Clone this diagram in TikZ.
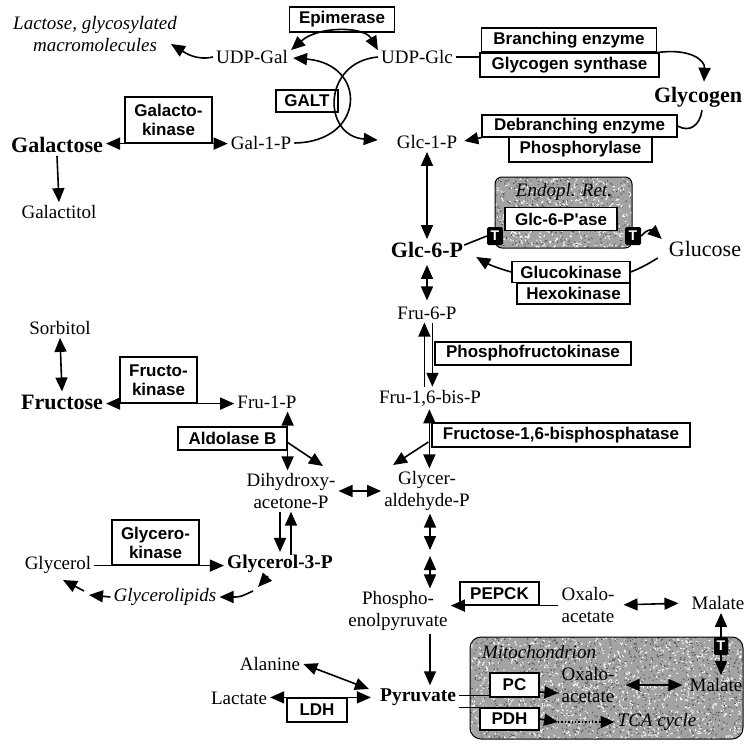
\documentclass[tikz,border=0pt]{standalone}
\usepackage{fontspec}
\setmainfont{Liberation Serif}
\newfontfamily\sansf{Liberation Sans}
\usetikzlibrary{arrows.meta,calc}

\newcommand\metsz{\fontsize{19}{21.5}\selectfont}
\newcommand\bigsz{\fontsize{22}{24}\selectfont\bfseries}
\newcommand\bldsz{\fontsize{19.5}{21}\selectfont\bfseries}
\newcommand\enzsz{\sansf\bfseries\fontsize{17}{19}\selectfont}

% grainy membrane texture: random light and dark flecks
\newcommand\speckle[5]{%
  \foreach \k in {1,...,#5}{%
    \pgfmathsetmacro\sx{#1+(#3-#1)*rnd}%
    \pgfmathsetmacro\sy{#2+(#4-#2)*rnd}%
    \pgfmathsetmacro\dx{4*rnd-2}%
    \pgfmathsetmacro\dy{4*rnd-2}%
    \draw[white,line width=0.9pt,line cap=round] (\sx,\sy) -- ++(\dx,\dy);
  }%
  \foreach \k in {1,...,#5}{%
    \pgfmathsetmacro\sx{#1+(#3-#1)*rnd}%
    \pgfmathsetmacro\sy{#2+(#4-#2)*rnd}%
    \pgfmathsetmacro\dx{3*rnd-1.5}%
    \pgfmathsetmacro\dy{3*rnd-1.5}%
    \draw[black!70,line width=0.7pt,line cap=round] (\sx,\sy) -- ++(\dx,\dy);
  }%
}

\tikzset{
  met/.style={font=\metsz, inner sep=3pt, align=center},
  metbig/.style={font=\bigsz, inner sep=3pt},
  metlarge/.style={font=\fontsize{22}{24}\selectfont, inner sep=3pt},
  metbold/.style={font=\bldsz, inner sep=3pt},
  metit/.style={font=\metsz\itshape, inner sep=3pt, align=center},
  enz/.style={draw, fill=white, line width=1.2pt, font=\enzsz, inner xsep=4pt,
    inner ysep=0pt, align=center},
  link/.style={line width=1.6pt},
  arr/.style={link, -{Triangle[length=14pt,width=12pt]}},
  darr/.style={link, {Triangle[length=14pt,width=12pt]}-{Triangle[length=14pt,width=12pt]}},
  tbox/.style={fill=black, text=white, font=\sansf\bfseries\fontsize{14}{14}\selectfont,
    inner sep=0pt, minimum width=16pt, minimum height=18pt, rounded corners=1.5pt},
}

\begin{document}
\begin{tikzpicture}[x=1pt,y=-1pt]
\useasboundingbox (0,0) rectangle (744,745);
\fill[white] (0,0) rectangle (744,745);

% ---------- compartments ----------
\pgfmathsetseed{7}
\begin{scope}
  \path[clip,rounded corners=7pt] (495,177) rectangle (632,248);
  \fill[black!36] (495,177) rectangle (632,248);
  \speckle{495}{177}{632}{248}{420}
\end{scope}
\draw[line width=1pt,rounded corners=7pt] (495,177) rectangle (632,248);

\begin{scope}
  \path[clip,rounded corners=11pt] (470,637) rectangle (743,739);
  \fill[black!36] (470,637) rectangle (743,739);
  \speckle{470}{637}{743}{739}{1200}
\end{scope}
\draw[line width=1pt,rounded corners=11pt] (470,637) rectangle (743,739);

% ---------- metabolites ----------
\node[metit] (lac) at (95,34) {Lactose, glycosylated\\macromolecules};
\node[met] (udpgal) at (252,57) {UDP-Gal};
\node[met] (udpglc) at (417,57) {UDP-Glc};
\node[metbig] (galactose) at (57,145) {Galactose};
\node[met] (gal1p) at (261,143) {Gal-1-P};
\node[met] (glc1p) at (427,142) {Glc-1-P};
\node[metbig] (glycogen) at (698,97) {Glycogen};
\node[met] (galactitol) at (59,212) {Galactitol};
\node[metbig] (glc6p) at (427,250) {Glc-6-P};
\node[metlarge] (glucose) at (705,249) {Glucose};
\node[met] (fru6p) at (427,313) {Fru-6-P};
\node[met] (sorbitol) at (60,328) {Sorbitol};
\node[metbig] (fructose) at (62,402) {Fructose};
\node[met] (fru1p) at (267,402) {Fru-1-P};
\node[met] (fru16bp) at (430,398) {Fru-1,6-bis-P};
\node[met] (dhap) at (291,491) {Dihydroxy-\\acetone-P};
\node[met] (gap) at (427,491) {Glycer-\\aldehyde-P};
\node[met] (glycerol) at (58,565) {Glycerol};
\node[metbold] (g3p) at (280,564) {Glycerol-3-P};
\node[metit] (glipids) at (165,597) {Glycerolipids};
\node[met] (pep) at (398,611) {Phospho-\\enolpyruvate};
\node[met] (oaa) at (588,605) {Oxalo-\\acetate};
\node[met] (malate) at (718,603) {Malate};
\node[met] (alanine) at (270,664) {Alanine};
\node[met] (lactate) at (239,698) {Lactate};
\node[metbold] (pyruvate) at (418,697) {Pyruvate};
\node[metit] (mitolab) at (539,652) {Mitochondrion};
\node[met] (oaam) at (588,685) {Oxalo-\\acetate};
\node[met] (malatem) at (716,685) {Malate};
\node[metit] (tca) at (657,722) {TCA cycle};
\node[metit] (erlab) at (564,192) {Endopl. Ret.};

% ---------- enzymes ----------
\node[enz,minimum width=105pt,minimum height=25pt] (epim) at (342,19.5) {Epimerase};
\node[enz,minimum width=175pt,minimum height=24pt] (be) at (569,40) {Branching enzyme};
\node[enz,minimum width=179pt,minimum height=24pt] (gs) at (569.5,65) {Glycogen synthase};
\node[enz,minimum width=62pt,minimum height=22pt] (galt) at (307,101) {GALT};
\node[enz,minimum width=87pt,minimum height=46pt] (galk) at (168.5,120) {Galacto-\\kinase};
\node[enz,minimum width=195pt,minimum height=22pt] (deb) at (579.5,126) {Debranching enzyme};
\node[enz,minimum width=143pt,minimum height=25pt] (phos) at (580.5,149.5) {Phosphorylase};
\node[enz,minimum width=112pt,minimum height=23pt] (g6pase) at (561,219) {Glc-6-P'ase};
\node[enz,minimum width=118pt,minimum height=21pt] (gk) at (571,272) {Glucokinase};
\node[enz,minimum width=113pt,minimum height=21pt] (hk) at (573.5,293.5) {Hexokinase};
\node[enz,minimum width=196pt,minimum height=23pt] (pfk) at (533,353.5) {Phosphofructokinase};
\node[enz,minimum width=258pt,minimum height=24pt] (fbp) at (561,435) {Fructose-1,6-bisphosphatase};
\node[enz,minimum width=77pt,minimum height=46pt] (fruk) at (158.5,380) {Fructo-\\kinase};
\node[enz,minimum width=109pt,minimum height=23pt] (aldb) at (232.5,438.5) {Aldolase B};
\node[enz,minimum width=87pt,minimum height=45pt] (glyk) at (155.5,542.5) {Glycero-\\kinase};
\node[enz,minimum width=79pt,minimum height=23pt] (pepck) at (499.5,593.5) {PEPCK};
\node[enz,minimum width=60pt,minimum height=24pt] (ldh) at (317,710) {LDH};
\node[enz,minimum width=49pt,minimum height=24pt] (pc) at (514.5,685) {PC};
\node[enz,minimum width=59pt,minimum height=22pt] (pdh) at (509.5,719) {PDH};

% transporters of the ER membrane
\node[tbox] (tl) at (495,236) {T};
\node[tbox] (tr) at (633,236) {T};

% ---------- free ends ----------
\coordinate (lacend) at (171,44);
\coordinate (aldend) at (323,466);
\coordinate (fbpend) at (393,465);
\coordinate (gl1) at (258,587);
\coordinate (gl2) at (253,591);
\coordinate (gl3) at (89,595);
\coordinate (gl4) at (84,591);
\coordinate (gl5) at (63,580);
\coordinate (mid) at (430,553);
\coordinate (dot1) at (558,722);
\coordinate (dot2) at (600,722);

% ---------- galactose ----------
\draw[arr] (udpgal.west) .. controls (196,61) and (184,52) .. (lacend);
\draw[darr] ($(udpgal.north east)+(0,3)$) .. controls (318,26) and (364,26) .. ($(udpglc.north west)+(0,3)$);
\draw[arr] (gal1p.east) .. controls (366,142) and (368,64) .. ($(udpgal.east)+(2,1)$);
\draw[arr] (udpglc.west) .. controls (322,62) and (322,136) .. ($(glc1p.west)+(-16,-2)$);
\draw[darr] (galactose.east |- galk.south) -- (gal1p.west |- galk.south);
\draw[arr] (galactose.south) -- (galactitol.north);

% ---------- glycogen ----------
\draw[link] (udpglc.east) -- (udpglc.east -| gs.west);
\draw[arr] (be.south east) .. controls (690,48) and (705,60) .. ($(glycogen.north)+(6,-2)$);
\draw[link] ($(glycogen.south)+(4,0)$) .. controls (700,125) and (690,133) .. (deb.east);
\draw[arr] (deb.south west) -- ($(glc1p.east)+(4,-1)$);
\draw[darr] (glc1p.south) -- (glc6p.north);

% ---------- glucose ----------
\draw[link] ($(glc6p.north east)+(-2,6)$) -- (tl.west);
\draw[arr] (tr.east) .. controls (649,227) and (653,231) .. ($(glucose.west)+(-4,-10)$);
\draw[link] ($(glucose.west)+(-8,9)$) .. controls (648,264) and (641,268) .. (gk.east);
\draw[arr] (gk.west) .. controls (500,269) and (490,265) .. ($(glc6p.east)+(10,7)$);

% ---------- glycolysis / gluconeogenesis ----------
\draw[darr,shorten <=4pt,shorten >=3pt] (glc6p.south) -- (fru6p.north);
\draw[arr] ($(fru16bp.north -| pfk.west)+(-10,0)$) -- ($(fru6p.south -| pfk.west)+(-10,0)$);
\draw[arr] ($(fru6p.south -| pfk.west)+(-2,0)$) -- ($(fru16bp.north -| pfk.west)+(-2,0)$);
\draw[darr] ($(fru16bp.south -| fbp.west)+(-2,0)$) -- ($(gap.north -| fbp.west)+(-2,0)$);
\draw[arr] ($(fbp.west)+(-3,7)$) -- (fbpend);

% ---------- fructose ----------
\draw[darr] (sorbitol.south) -- (fructose.north);
\draw[darr] (fructose.east |- fruk.south) -- (fru1p.west |- fruk.south);
\draw[darr] (fru1p.south -| aldb.east) -- (dhap.north -| aldb.east);
\draw[arr] ($(aldb.east)+(0,4)$) -- (aldend);

% ---------- trioses / glycerol ----------
\draw[darr] (dhap.east) -- (gap.west);
\draw[arr] (dhap.south -| g3p.north) -- (g3p.north);
\draw[arr] ($(g3p.north -| dhap.south)+(0,3)$) -- (dhap.south);
\draw[arr] (glycerol.east |- glyk.south) -- (g3p.west |- glyk.south);
\draw[arr] ($(g3p.south)+(-12,0)$) -- (gl1);
\draw[arr] (gl2) .. controls (240,597) .. (glipids.east);
\draw[arr] (glipids.west) -- (gl3);
\draw[arr] (gl4) -- (gl5);

% ---------- lower glycolysis ----------
\draw[darr] (gap.south -| mid) -- ([yshift=3pt]mid);
\draw[darr] ([yshift=-3pt]mid) -- (pep.north -| mid);
\draw[arr] (oaa.west |- pepck.south) -- (pep.east |- pepck.south);
\draw[darr,shorten <=6pt,shorten >=10pt] (oaa.east) -- (malate.west);
\draw[arr] (pep.south -| mid) -- (pyruvate.north -| mid);
\draw[darr] (alanine.east) -- ($(pyruvate.west)+(-8,-8)$);
\draw[darr] (lactate.east |- ldh.north) -- ($(pyruvate.west |- ldh.north)+(-6,0)$);

% ---------- mitochondrion ----------
\draw[link] ($(pyruvate.east |- pc.south)+(0,-2)$) -- ($(pc.south west)+(0,-2)$);
\draw[link] (pyruvate.east |- pdh.north) -- (pdh.north west);
\draw[arr] ($(pc.east)+(0,7)$) -- ($(oaam.west)+(0,8)$);
\draw[arr] (pdh.east) -- (dot1);
\draw[dotted,line width=1.4pt] (dot1) -- (dot2);
\draw[arr] (dot2) -- (tca.west);
\draw[darr,shorten <=8pt,shorten >=4pt] (oaam.east) -- (malatem.west);
\draw[darr] ($(malate.south)+(3,0)$) -- ($(malatem.north)+(5,0)$);
\node[tbox,minimum width=14pt] (tm) at (721,646) {T};

\end{tikzpicture}
\end{document}
